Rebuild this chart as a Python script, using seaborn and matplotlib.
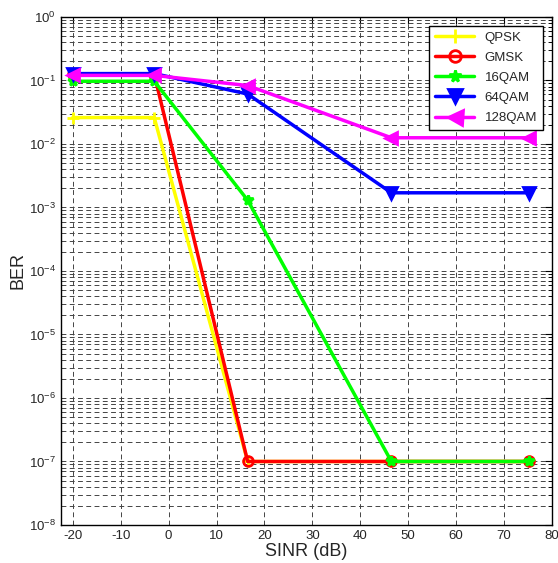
import numpy as np
import pandas as pd
import matplotlib
matplotlib.use("Agg")
import matplotlib.pyplot as plt
import seaborn as sns
from matplotlib.ticker import LogLocator, NullFormatter

sinr = [-20, -3, 16.5, 46.5, 75.3]
qpsk = [0.026, 0.026, 1e-7, 1e-7, 1e-7]
gmsk = [0.125, 0.125, 1e-7, 1e-7, 1e-7]
qam16 = [0.097, 0.097, 1.3e-3, 1e-7, 1e-7]
qam64 = [0.128, 0.128, 0.061, 1.7e-3, 1.7e-3]
qam128 = [0.12, 0.12, 0.083, 0.0125, 0.0125]
names = ["QPSK", "GMSK", "16QAM", "64QAM", "128QAM"]
xticks = [-20, -10, 0, 10, 20, 30, 40, 50, 60, 70, 80]

sns.set_style("white")
plt.rcParams['font.family'] = ['Liberation Sans', 'DejaVu Sans']
plt.rcParams['mathtext.fontset'] = 'custom'
plt.rcParams['mathtext.rm'] = 'Liberation Sans'

fig = plt.figure(figsize=(5.58, 5.63), dpi=100)
ax = fig.add_axes([0.109, 0.0675, 0.880, 0.9025])

series = [qpsk, gmsk, qam16, qam64, qam128]
colors = ["#ffff00", "#ff0000", "#00ff00", "#0000ff", "#ff00ff"]
markers = ["+", "o", "*", "v", "<"]
msizes = [8, 7, 7, 8, 9]
mfc = ["#ffff00", "none", "#00ff00", "#0000ff", "#ff00ff"]

for vals, name, c, m, ms, fc in zip(series, names, colors, markers, msizes, mfc):
    df = pd.DataFrame({"SINR": sinr, "BER": vals})
    sns.lineplot(data=df, x="SINR", y="BER", ax=ax, color=c, lw=2.5,
                 marker=m, markersize=ms, markerfacecolor=fc,
                 markeredgecolor=c, markeredgewidth=2.0, label=name)

ax.set_yscale("log")
ax.set_xlim(-22.5, 80)
ax.set_ylim(1e-8, 1)
ax.set_xticks(xticks)
ax.set_xticklabels([str(t) for t in xticks])
ax.yaxis.set_major_locator(LogLocator(base=10, numticks=20))
ax.yaxis.set_minor_locator(LogLocator(base=10, subs=np.arange(2, 10), numticks=20))
ax.yaxis.set_minor_formatter(NullFormatter())

gstyle = dict(color="#444444", linestyle=(0, (5, 3.5)), lw=0.7)
ax.grid(True, which="major", axis="both", **gstyle)
ax.grid(True, which="minor", axis="y", **gstyle)
ax.set_axisbelow(True)
ax.tick_params(which="both", direction="in", top=True, right=True, labelsize=9.5, color="black")
ax.tick_params(which="major", length=5)
ax.tick_params(which="minor", length=3)
for s in ax.spines.values():
    s.set_color("black")
    s.set_linewidth(1.0)

ax.set_xlabel("SINR (dB)", fontsize=13, labelpad=1)
ax.set_ylabel("BER", fontsize=13, labelpad=2)

leg = ax.legend(loc="upper right", fontsize=9.5, fancybox=False, framealpha=1,
                edgecolor="black", handlelength=3.0, borderaxespad=0.7, labelspacing=0.6,
                markerscale=1.2)
leg.get_frame().set_linewidth(1.0)

fig.savefig("out.png", dpi=100)
